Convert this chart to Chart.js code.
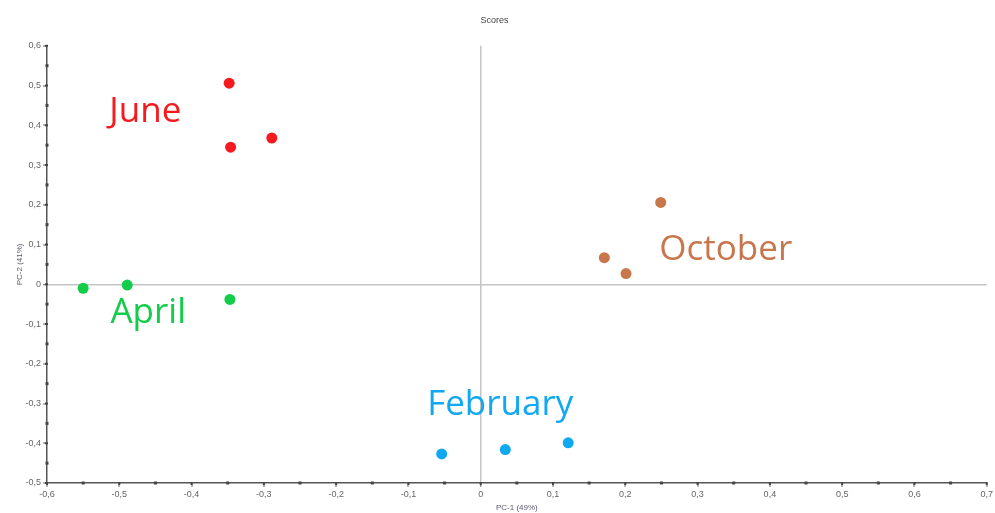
<!DOCTYPE html>
<html>
<head>
<meta charset="utf-8">
<script src="https://cdn.jsdelivr.net/npm/chart.js@4/dist/chart.umd.min.js"></script>
<style>
html,body{margin:0;padding:0;background:#fff;}
#wrap{width:995px;height:513px;position:relative;}
</style>
</head>
<body>
<div id="wrap"><canvas id="c" width="995" height="513"></canvas></div>
<script>
// ---- data ----
const groups = ["June", "April", "October", "February"];
const juneX = [-0.348, -0.346, -0.289];
const juneY = [0.506, 0.345, 0.368];
const aprilX = [-0.550, -0.489, -0.347];
const aprilY = [-0.010, -0.002, -0.038];
const octoberX = [0.249, 0.171, 0.201];
const octoberY = [0.206, 0.067, 0.027];
const februaryX = [-0.054, 0.034, 0.121];
const februaryY = [-0.427, -0.416, -0.399];
// label anchors (data space: centre x, baseline y)
const labelX = [-0.464, -0.460, 0.339, 0.027];
const labelY = [0.409, -0.097, 0.061, -0.329];
const colors = ["#f51a1e", "#12cc4a", "#c8764c", "#10a8f0"];
const xTitle = "PC-1 (49%)";
const yTitle = "PC-2 (41%)";
const chartTitle = "Scores";

const seriesX = [juneX, aprilX, octoberX, februaryX];
const seriesY = [juneY, aprilY, octoberY, februaryY];

const datasets = groups.map((g, i) => ({
  label: g,
  data: seriesX[i].map((x, k) => ({x: x, y: seriesY[i][k]})),
  backgroundColor: colors[i],
  borderColor: colors[i],
  pointRadius: 5.5,
  pointBorderWidth: 0
}));

function isMajor(v){ return Math.abs(Math.round(v*10) - v*10) < 1e-6; }
function fmt(v){
  if (!isMajor(v)) return "";
  const r = Math.round(v*10)/10;
  if (r === 0) return "0";
  return r.toFixed(1).replace(".", ",");
}
function isZero(v){ return Math.abs(v) < 1e-9; }

const minorDots = {
  id: "minorDots",
  afterDraw(chart){
    const ctx = chart.ctx;
    ctx.save();
    ctx.fillStyle = "#444";
    const xs = chart.scales.x, ys = chart.scales.y;
    xs.ticks.forEach(t => {
      const px = xs.getPixelForValue(t.value);
      if (isMajor(t.value)) { ctx.fillRect(px-1, xs.top-1, 2, 3); }
      else ctx.fillRect(px-1.5, xs.top-1.5, 3, 3);
    });
    ys.ticks.forEach(t => {
      const py = ys.getPixelForValue(t.value);
      if (isMajor(t.value)) { ctx.fillRect(ys.right-2, py-1, 3, 2); }
      else ctx.fillRect(ys.right-1.5, py-1.5, 3, 3);
    });
    ctx.restore();
  }
};

const groupLabels = {
  id: "groupLabels",
  afterDatasetsDraw(chart){
    const ctx = chart.ctx;
    const xs = chart.scales.x, ys = chart.scales.y;
    ctx.save();
    ctx.font = "35px 'Open Sans', 'Noto Sans', sans-serif";
    ctx.textAlign = "center";
    ctx.textBaseline = "alphabetic";
    groups.forEach((g, i) => {
      ctx.fillStyle = colors[i];
      ctx.fillText(g, xs.getPixelForValue(labelX[i]), ys.getPixelForValue(labelY[i]));
    });
    ctx.restore();
  }
};

const tickFont = {family: "'Liberation Sans', Arial, sans-serif", size: 9};

new Chart(document.getElementById("c"), {
  type: "scatter",
  data: {datasets},
  plugins: [minorDots, groupLabels],
  options: {
    responsive: false,
    animation: false,
    layout: {padding: {left: 0, right: 6, top: 0, bottom: 0}},
    plugins: {
      legend: {display: false},
      tooltip: {enabled: false},
      title: {
        display: true, text: chartTitle, color: "#444",
        font: {family: "'Liberation Sans', Arial, sans-serif", size: 9, weight: "normal"},
        padding: {top: 15, bottom: 20}
      }
    },
    scales: {
      x: {
        type: "linear", min: -0.6, max: 0.7,
        afterFit(s){ s.height = 30; },
        border: {color: "#555", width: 1.5},
        grid: {
          drawTicks: true, tickLength: 4,
          color: c => (c.tick && isZero(c.tick.value)) ? "#c4c4c4" : "rgba(0,0,0,0)",
          lineWidth: c => (c.tick && isZero(c.tick.value)) ? 1.5 : 0,
          tickColor: c => (c.tick && isMajor(c.tick.value)) ? "#666" : "rgba(0,0,0,0)",
          tickWidth: 1
        },
        ticks: {stepSize: 0.05, autoSkip: false, maxRotation: 0, color: "#666", font: tickFont, padding: 2, callback: v => fmt(v)},
        title: {display: true, text: xTitle, color: "#5a5a70", font: {family: "'Liberation Sans', Arial, sans-serif", size: 8}, padding: {top: 0, bottom: 0}}
      },
      y: {
        type: "linear", min: -0.5, max: 0.6,
        afterFit(s){ s.width = 47; },
        border: {color: "#555", width: 1.5},
        grid: {
          drawTicks: true, tickLength: 4,
          color: c => (c.tick && isZero(c.tick.value)) ? "#c4c4c4" : "rgba(0,0,0,0)",
          lineWidth: c => (c.tick && isZero(c.tick.value)) ? 1.5 : 0,
          tickColor: c => (c.tick && isMajor(c.tick.value)) ? "#666" : "rgba(0,0,0,0)",
          tickWidth: 1
        },
        ticks: {stepSize: 0.05, autoSkip: false, color: "#666", font: tickFont, padding: 2, callback: v => fmt(v)},
        title: {display: true, text: yTitle, color: "#5a5a70", font: {family: "'Liberation Sans', Arial, sans-serif", size: 8}, padding: {top: 15, bottom: 0}}
      }
    }
  }
});
</script>
</body>
</html>
